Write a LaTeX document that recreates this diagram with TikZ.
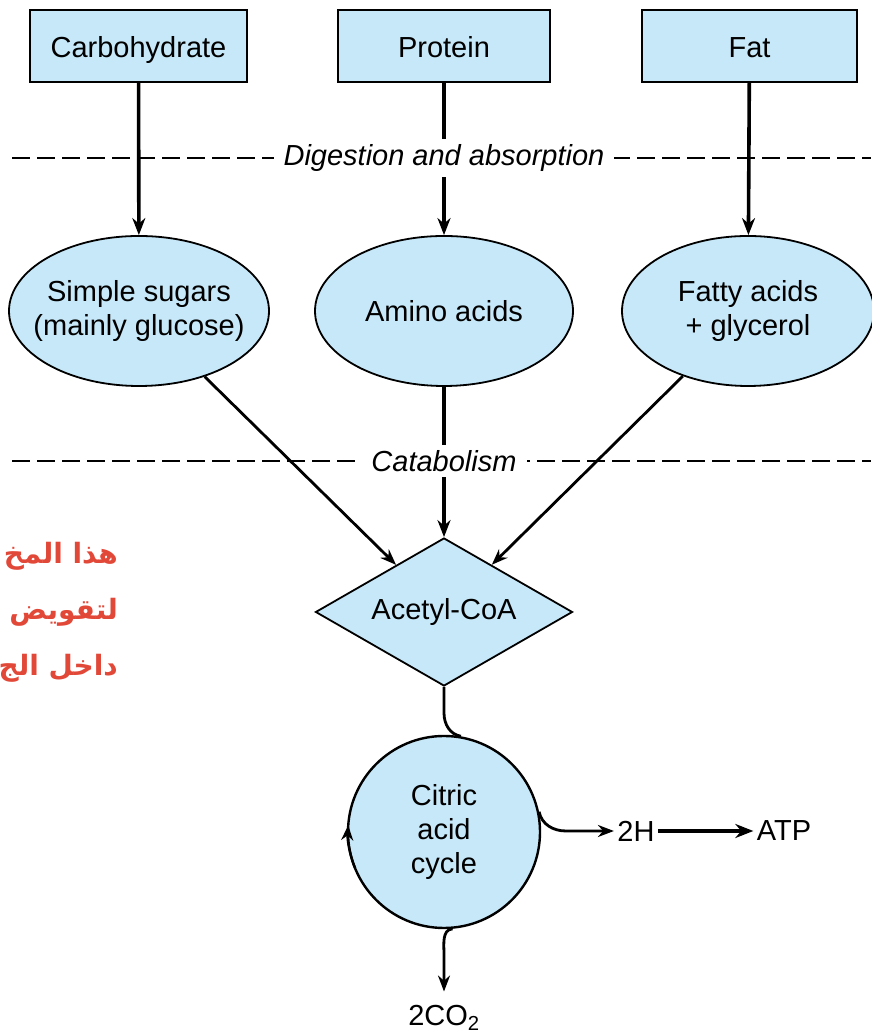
\documentclass[tikz,border=0pt]{standalone}
\usepackage{fontspec}
\setmainfont{Liberation Sans}
\newfontfamily\arabicfont[Script=Arabic]{DejaVu Sans}
\TeXXeTstate=1
\usetikzlibrary{shapes.geometric, arrows.meta, positioning, calc}
\definecolor{azul}{RGB}{198,232,248}
\definecolor{verm}{RGB}{226,72,56}
\tikzset{
  cx/.style = {draw=black, fill=azul, line width=2pt, minimum height=72pt,
    inner sep=0pt, text height=25pt, text depth=1pt, font=\fontsize{29}{34}\selectfont},
  el/.style = {ellipse, draw=black, fill=azul, line width=1.8pt, minimum width=258pt,
    minimum height=150pt, inner xsep=-20pt, inner ysep=0pt, align=center,
    font=\fontsize{29}{34}\selectfont},
  los/.style = {diamond, aspect=1.74, draw=black, fill=azul, line width=1.8pt,
    minimum width=257pt, minimum height=148pt, inner sep=0pt,
    font=\fontsize{29}{34}\selectfont},
  ci/.style = {circle, draw=black, fill=azul, line width=2.4pt, minimum size=192pt,
    inner sep=0pt, align=center, font=\fontsize{29}{34}\selectfont},
  txt/.style = {font=\fontsize{29}{34}\selectfont},
  tr/.style = {dash pattern=on 18pt off 7pt, line width=2.4pt},
  rot/.style = {fill=white, inner xsep=10pt, inner ysep=5pt,
    font=\itshape\fontsize{29}{34}\selectfont},
  seta/.style = {-{Stealth[length=17pt, width=13pt]}, line width=3.6pt},
  seta2/.style = {-{Stealth[length=16pt, width=12pt]}, line width=2.8pt},
  setag/.style = {-{Stealth[length=18pt, width=14pt]}, line width=4.4pt},
  lig/.style = {line width=2.8pt},
  ar/.style = {text=verm, anchor=east, inner sep=0pt,
    font=\arabicfont\bfseries\fontsize{28}{32}\selectfont}
}

\begin{document}
\begin{tikzpicture}[x=1pt, y=1pt]
  \useasboundingbox (0,0) rectangle (871,1035);
  \node [cx, minimum width=217pt] (carb) at (138.5,989) {Carbohydrate};
  \node [cx, minimum width=212pt] (prot) at (444,989) {Protein};
  \node [cx, minimum width=215pt] (fat) at (749.5,989) {Fat};
  \node [el, minimum width=260pt] (sug) at (139,724) {Simple sugars\\(mainly glucose)};
  \node [el] (ami) at (444,724) {Amino acids};
  \node [el, minimum width=252pt] (gli) at (748,724) {Fatty acids\\+ glycerol};
  \node [los] (acet) at (444,423) {Acetyl-CoA};
  \node [ci] (cic) at (444,203) {Citric\\acid\\cycle};
  \node [txt] (h2) at (636,204) {2H};
  \node [txt] (atp) at (784,204) {ATP};
  \node [txt] (co2) at (444,17) {2CO\textsubscript{2}};
  \coordinate (k1) at (444,322);
  \coordinate (k2) at (566,204);
  \coordinate (k3) at (444,80);
  \draw [tr] (12,877) -- (871,877);
  \draw [tr] (12,574) -- (871,574);
  \draw [seta] (carb) -- (sug);
  \draw [seta] (prot) -- (ami);
  \draw [seta] (fat) -- (gli);
  \draw [seta2] (sug.-45) -- (acet);
  \draw [seta] (ami) -- (acet);
  \draw [seta2] (gli.-135) -- (acet);
  \draw [lig] (acet.south) -- (k1) to[out=-90, in=170] (cic.80);
  \draw [seta2] (cic.12) to[out=-78, in=180] (k2) -- (h2);
  \draw [setag] (h2) -- (atp);
  \draw [seta2, shorten >=10pt] (cic.-85) to[out=-175, in=90] (k3) -- (co2);
  \draw [-{Stealth[length=15pt, width=12pt]}, line width=2.4pt]
    ($(cic.center)+(202:96)$) arc[start angle=202, end angle=176, radius=96pt];
  \node [rot] (dig) at (444,877) {Digestion and absorption};
  \node [rot] (cat) at (444,574) {Catabolism};
  \node [ar] (ar1) at (118,479) {\beginR هذا المخ\endR};
  \node [ar] (ar2) at (118,423) {\beginR لتقويض\endR};
  \node [ar] (ar3) at (118,367) {\beginR داخل الج\endR};
\end{tikzpicture}
\end{document}
